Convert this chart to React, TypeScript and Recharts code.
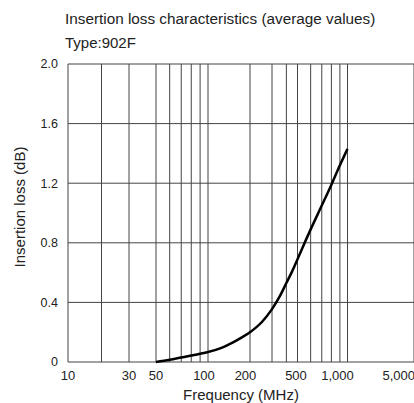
import React from "react"
import { LineChart, Line, XAxis, YAxis, CartesianGrid } from "recharts"

// measured curve (MHz -> dB)
const freqs = [50, 60, 70, 80, 90, 100, 125, 150, 175, 200, 250, 300, 350, 400, 450, 500, 600, 700, 800, 900, 1000]
const loss = [0, 0.015, 0.03, 0.043, 0.055, 0.067, 0.095, 0.13, 0.165, 0.2, 0.27, 0.355, 0.44, 0.53, 0.61, 0.69, 0.89, 1.05, 1.19, 1.32, 1.43]

const gridFreqs = [10, 20, 30, 50, 60, 70, 80, 90, 100, 200, 300, 400, 500, 600, 700, 800, 900, 1000, 5000]
const labelFreqs = [10, 30, 50, 100, 200, 500, 1000, 5000]
const yTicks = [0, 0.4, 0.8, 1.2, 1.6, 2.0]

// the printed axis is a stretched log scale; piecewise-log anchors
const anchorF = [10, 20, 30, 50, 100, 200, 300, 500, 1000, 5000]
const anchorU = [0, 33.5, 61, 88, 140, 182, 204, 229.5, 279.5, 346]

// labels in the original sit slightly left of some grid lines
const labelNudge: Record<number, number> = { 100: -4, 200: -4.5, 500: -1.5, 1000: -10 }

function toU(f: number) {
  for (let i = 0; i < anchorF.length - 1; i++) {
    if (f <= anchorF[i + 1]) {
      const t = Math.log(f / anchorF[i]) / Math.log(anchorF[i + 1] / anchorF[i])
      return anchorU[i] + (anchorU[i + 1] - anchorU[i]) * t
    }
  }
  return anchorU[anchorU.length - 1]
}

const data = freqs.map((f, i) => ({ u: toU(f), loss: loss[i] }))
const FONT = "'Liberation Sans', Arial, sans-serif"

function XTick(props: any) {
  const { x, y, index } = props
  const f = gridFreqs[index]
  if (!labelFreqs.includes(f)) return null
  const last = f === 5000
  return (
    <text
      x={last ? x + 1 : x + (labelNudge[f] || 0)}
      y={y + 1}
      dy="0.71em"
      textAnchor={last ? "end" : "middle"}
      fontSize={13}
      fontFamily={FONT}
      fill="#222"
    >
      {f.toLocaleString("en-US")}
    </text>
  )
}

export default function App() {
  return (
    <div style={{ position: "absolute", left: 0, top: 0, width: 414, height: 403, background: "#fff" }}>
      <LineChart width={414} height={403} data={data} margin={{ top: 64, right: 0, bottom: 0, left: 0 }}>
        <CartesianGrid stroke="#444" strokeWidth={1} />
        <XAxis
          type="number"
          dataKey="u"
          domain={[0, 346]}
          ticks={gridFreqs.map(toU)}
          interval={0}
          allowDataOverflow
          tickLine={false}
          axisLine={false}
          height={41}
          tick={<XTick />}
        />
        <YAxis
          domain={[0, 2]}
          ticks={yTicks}
          interval={0}
          width={68}
          tickLine={false}
          axisLine={false}
          tickSize={6}
          tickMargin={4}
          tick={{ fontSize: 12.5, fontFamily: FONT, fill: "#222" }}
          tickFormatter={(v: number) => (v === 0 ? "0" : v.toFixed(1))}
        />
        <Line type="monotone" dataKey="loss" stroke="#000" strokeWidth={2.5} dot={false} isAnimationActive={false} />
      </LineChart>
      <svg width={414} height={403} style={{ position: "absolute", left: 0, top: 0, pointerEvents: "none" }}>
        <g fontFamily={FONT} fill="#222" fontSize={15}>
          <text x={65} y={18} fontSize={15.3} dominantBaseline="central">Insertion loss characteristics (average values)</text>
          <text x={65} y={42} dominantBaseline="central">Type:902F</text>
          <text x={241} y={394} textAnchor="middle" dominantBaseline="central">Frequency (MHz)</text>
          <text x={19} y={207} textAnchor="middle" dominantBaseline="central" transform="rotate(-90 19 207)">Insertion loss (dB)</text>
        </g>
      </svg>
    </div>
  )
}
